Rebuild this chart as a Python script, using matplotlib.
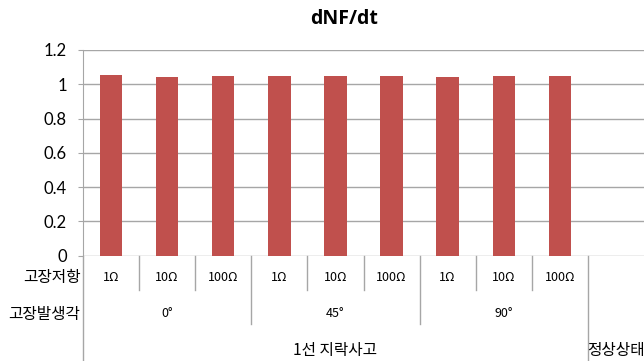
import numpy as np
import matplotlib
matplotlib.use('Agg')
import matplotlib.pyplot as plt

# chart data
resistances = ['1Ω', '10Ω', '100Ω', '1Ω', '10Ω', '100Ω', '1Ω', '10Ω', '100Ω', '']
angles = ['0°', '45°', '90°']
fault_types = ['1선 지락사고', '정상상태']
values = [1.054, 1.041, 1.050, 1.047, 1.050, 1.047, 1.041, 1.047, 1.047]

KR = ['Noto Sans CJK KR', 'DejaVu Sans']
LAT = ['Lato', 'DejaVu Sans']
GRID = '#a6a6a6'
BAR = '#c0504d'

fig = plt.figure(figsize=(6.44, 3.61), dpi=100)
ax = fig.add_axes([83 / 644, 1 - 255.7 / 361, 561 / 644, 205.7 / 361])

n_cat = len(resistances)
x = np.arange(len(values))
ax.bar(x, values, width=0.4, color=BAR, zorder=3)

ax.set_xlim(-0.5, n_cat - 0.5)
ax.set_ylim(0, 1.2)
ax.set_yticks(np.arange(0, 1.21, 0.2))
ax.set_yticklabels(['0', '0.2', '0.4', '0.6', '0.8', '1', '1.2'], family=LAT, fontsize=12)
ax.yaxis.grid(True, color=GRID, linewidth=1)
ax.set_axisbelow(True)
ax.tick_params(axis='y', length=3.6, color=GRID, pad=8)
ax.set_xticks([])
for s in ['top', 'right', 'bottom']:
    ax.spines[s].set_visible(False)
ax.spines['left'].set_color(GRID)

tr = ax.get_xaxis_transform()
# left axis line extended down through the category rows
ax.plot([-0.5, -0.5], [0, -0.512], transform=tr, color=GRID, lw=1, clip_on=False)

# row 1: fault resistance
for i, lab in enumerate(resistances):
    ax.text(i, -0.105, lab, transform=tr, ha='center', va='center',
            fontsize=9, family=KR)
    if i > 0:
        bottom = -0.167
        if i % 3 == 0:
            bottom = -0.332
        if i == 9:
            bottom = -0.512
        ax.plot([i - 0.5, i - 0.5], [0, bottom], transform=tr, color=GRID,
                lw=1, clip_on=False)

# row 2: fault angle
for g, lab in enumerate(angles):
    ax.text(g * 3 + 1, -0.279, lab, transform=tr, ha='center', va='center',
            fontsize=9, family=KR)

# row 3: fault type
ax.text(4, -0.459, fault_types[0], transform=tr, ha='center', va='center',
        fontsize=11.3, family=KR)
ax.text(9, -0.459, fault_types[1], transform=tr, ha='center', va='center',
        fontsize=11.3, family=KR)

# row headers
fig.text(80.5 / 644, 1 - 277.5 / 361, '고장저항', ha='right', va='center', fontsize=11.3, family=KR)
fig.text(80.5 / 644, 1 - 314 / 361, '고장발생각', ha='right', va='center', fontsize=11.3, family=KR)

fig.text(344 / 644, 1 - 19 / 361, 'dNF/dt', ha='center', va='center',
         fontsize=14, fontweight='bold', family=['Open Sans', 'DejaVu Sans'])

fig.savefig('out.png', dpi=100)
